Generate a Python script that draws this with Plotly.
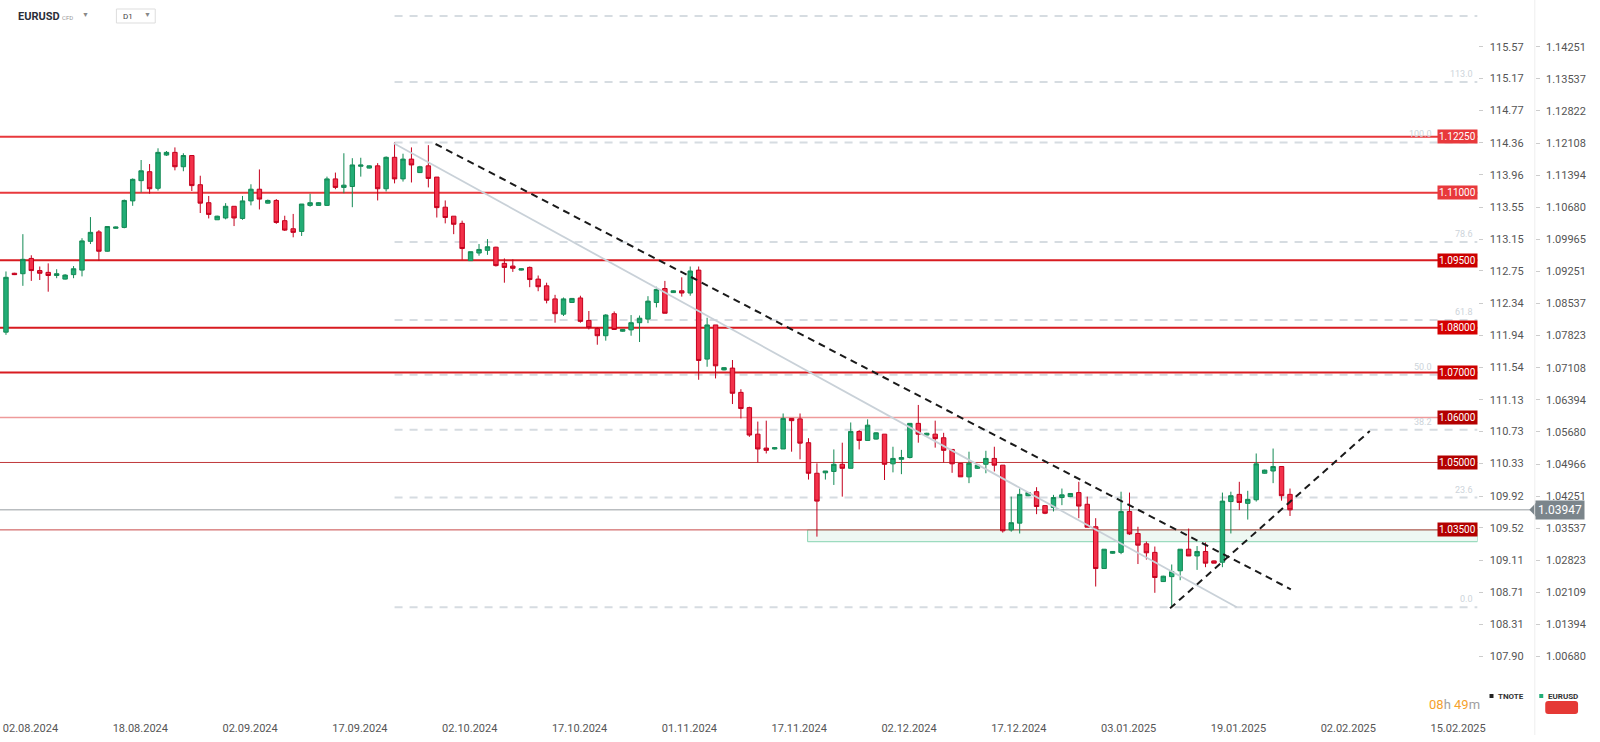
import plotly.graph_objects as go

# ---------------- data (EURUSD D1) ----------------
opens = [1.0790,1.0921,1.0920,1.0954,1.0927,1.0923,1.0916,1.0908,1.0918,1.0928,
         1.0992,1.1013,1.0970,1.1021,1.1023,1.1082,1.1127,1.1147,1.1110,1.1184,
         1.1190,1.1158,1.1183,1.1118,1.1078,1.1040,1.1044,1.1070,1.1043,1.1082,
         1.1108,1.1077,1.1083,1.1038,1.1020,1.1014,1.1072,1.1072,1.1072,1.1131,
         1.1112,1.1114,1.1159,1.1155,1.1160,1.1109,1.1179,1.1131,1.1175,1.1145,
         1.1160,1.1135,1.1068,1.1048,1.1032,1.0949,1.0966,1.0972,1.0979,1.0943,
         1.0937,1.0928,1.0934,1.0908,1.0893,1.0864,1.0830,1.0856,1.0866,1.0816,
         1.0798,1.0782,1.0831,1.0792,1.0795,1.0811,1.0819,1.0856,1.0887,1.0878,
         1.0882,1.0877,1.0928,1.0730,1.0806,1.0706,1.0710,1.0656,1.0622,1.0563,
         1.0532,1.0530,1.0530,1.0598,1.0597,1.0544,1.0476,1.0477,1.0480,1.0496,
         1.0487,1.0569,1.0549,1.0552,1.0563,1.0497,1.0507,1.0511,1.0587,1.0561,
         1.0563,1.0555,1.0529,1.0498,1.0468,1.0487,1.0496,1.0509,1.0494,1.0350,
         1.0365,1.0426,1.0435,1.0404,1.0400,1.0422,1.0424,1.0433,1.0407,1.0357,
         1.0264,1.0298,1.0300,1.0391,1.0342,1.0319,1.0300,1.0235,1.0246,1.0259,
         1.0307,1.0292,1.0302,1.0281,1.0278,1.0413,1.0429,1.0409,1.0417,1.0476,
         1.0481,1.0491,1.0429]
highs = [1.0925,1.0922,1.1008,1.0961,1.0936,1.0943,1.0930,1.0919,1.0937,1.0999,
         1.1046,1.1017,1.1026,1.1025,1.1085,1.1132,1.1173,1.1164,1.1199,1.1193,
         1.1201,1.1188,1.1184,1.1138,1.1093,1.1049,1.1077,1.1070,1.1093,1.1119,
         1.1152,1.1085,1.1086,1.1049,1.1053,1.1075,1.1098,1.1079,1.1136,1.1145,
         1.1188,1.1177,1.1178,1.1161,1.1166,1.1181,1.1212,1.1187,1.1201,1.1160,
         1.1206,1.1135,1.1083,1.1048,1.1038,1.0969,1.0986,1.0997,1.0980,1.0954,
         1.0952,1.0932,1.0936,1.0916,1.0900,1.0873,1.0867,1.0866,1.0871,1.0837,
         1.0801,1.0830,1.0836,1.0797,1.0828,1.0827,1.0870,1.0891,1.0904,1.0883,
         1.0912,1.0936,1.0936,1.0822,1.0806,1.0712,1.0728,1.0663,1.0624,1.0591,
         1.0593,1.0534,1.0609,1.0598,1.0609,1.0554,1.0498,1.0481,1.0529,1.0544,
         1.0589,1.0572,1.0596,1.0567,1.0563,1.0535,1.0528,1.0587,1.0628,1.0566,
         1.0593,1.0566,1.0529,1.0498,1.0524,1.0495,1.0526,1.0535,1.0494,1.0424,
         1.0442,1.0434,1.0445,1.0405,1.0428,1.0442,1.0432,1.0457,1.0424,1.0376,
         1.0307,1.0303,1.0435,1.0433,1.0357,1.0324,1.0313,1.0248,1.0273,1.0307,
         1.0353,1.0314,1.0322,1.0282,1.0433,1.0435,1.0457,1.0437,1.0520,1.0484,
         1.0531,1.0491,1.0442]
lows = [1.0784,1.0917,1.0893,1.0904,1.0906,1.0880,1.0910,1.0907,1.0910,1.0914,
        1.0986,1.0949,1.0969,1.1020,1.1021,1.1071,1.1101,1.1098,1.1105,1.1182,
        1.1150,1.1148,1.1104,1.1055,1.1043,1.1040,1.1041,1.1026,1.1040,1.1072,
        1.1063,1.1076,1.1031,1.1015,1.1001,1.1004,1.1069,1.1072,1.1071,1.1108,
        1.1099,1.1068,1.1136,1.1154,1.1083,1.1103,1.1121,1.1125,1.1123,1.1144,
        1.1112,1.1045,1.1032,1.1008,1.0951,1.0949,1.0960,1.0962,1.0936,1.0900,
        1.0924,1.0927,1.0890,1.0881,1.0854,1.0811,1.0826,1.0855,1.0811,1.0796,
        1.0762,1.0771,1.0795,1.0791,1.0782,1.0768,1.0810,1.0845,1.0832,1.0877,
        1.0869,1.0871,1.0684,1.0713,1.0687,1.0705,1.0630,1.0598,1.0557,1.0500,
        1.0520,1.0529,1.0530,1.0524,1.0507,1.0462,1.0335,1.0462,1.0450,1.0424,
        1.0487,1.0529,1.0549,1.0551,1.0461,1.0478,1.0474,1.0509,1.0544,1.0560,
        1.0533,1.0500,1.0477,1.0468,1.0454,1.0486,1.0476,1.0480,1.0344,1.0346,
        1.0342,1.0425,1.0385,1.0385,1.0391,1.0405,1.0423,1.0376,1.0356,1.0224,
        1.0264,1.0297,1.0296,1.0339,1.0274,1.0284,1.0210,1.0234,1.0178,1.0238,
        1.0292,1.0261,1.0267,1.0276,1.0267,1.0342,1.0394,1.0373,1.0413,1.0475,
        1.0454,1.0415,1.0381]
closes = [1.0912,1.0918,1.0952,1.0927,1.0921,1.0916,1.0920,1.0917,1.0931,1.0993,
          1.1012,1.0970,1.1025,1.1024,1.1083,1.1130,1.1149,1.1109,1.1190,1.1190,
          1.1158,1.1183,1.1116,1.1077,1.1052,1.1048,1.1070,1.1044,1.1082,1.1108,
          1.1086,1.1083,1.1034,1.1017,1.1012,1.1075,1.1078,1.1078,1.1131,1.1112,
          1.1117,1.1162,1.1162,1.1160,1.1109,1.1179,1.1131,1.1175,1.1162,1.1158,
          1.1132,1.1067,1.1045,1.1030,1.0976,1.0969,1.0974,1.0980,1.0938,1.0934,
          1.0932,1.0931,1.0907,1.0891,1.0861,1.0831,1.0864,1.0865,1.0814,1.0800,
          1.0782,1.0828,1.0796,1.0796,1.0811,1.0821,1.0859,1.0885,1.0832,1.0882,
          1.0877,1.0926,1.0727,1.0806,1.0715,1.0711,1.0654,1.0620,1.0561,1.0530,
          1.0527,1.0533,1.0598,1.0593,1.0543,1.0476,1.0414,1.0481,1.0496,1.0487,
          1.0569,1.0549,1.0583,1.0566,1.0496,1.0509,1.0511,1.0587,1.0563,1.0565,
          1.0553,1.0527,1.0497,1.0468,1.0498,1.0494,1.0509,1.0494,1.0348,1.0366,
          1.0429,1.0433,1.0402,1.0387,1.0422,1.0428,1.0431,1.0403,1.0356,1.0264,
          1.0307,1.0302,1.0391,1.0341,1.0316,1.0299,1.0244,1.0247,1.0257,1.0307,
          1.0292,1.0302,1.0276,1.0276,1.0414,1.0426,1.0411,1.0418,1.0497,1.0483,
          1.0491,1.0426,1.03947]

date_labels = ["02.08.2024", "18.08.2024", "02.09.2024", "17.09.2024", "02.10.2024",
               "17.10.2024", "01.11.2024", "17.11.2024", "02.12.2024", "17.12.2024",
               "03.01.2025", "19.01.2025", "02.02.2025", "15.02.2025"]
label_step = 13      # bars between date labels
label_offset = 2.9   # labels start at their bar and run to the right

eurusd_ticks = [1.14251, 1.13537, 1.12822, 1.12108, 1.11394, 1.10680, 1.09965, 1.09251,
                1.08537, 1.07823, 1.07108, 1.06394, 1.05680, 1.04966, 1.04251, 1.03537,
                1.02823, 1.02109, 1.01394, 1.00680]
tnote_ticks = [115.57, 115.17, 114.77, 114.36, 113.96, 113.55, 113.15, 112.75, 112.34, 111.94,
               111.54, 111.13, 110.73, 110.33, 109.92, 109.52, 109.11, 108.71, 108.31, 107.90]

levels = [1.12250, 1.11000, 1.09500, 1.08000, 1.07000, 1.06000, 1.05000, 1.03500]
level_line_colors = ["#e8393c", "#e8393c", "#d81b20", "#d81b20", "#d81b20", "#ee9a9a", "#c0393b", "#c84848"]
level_line_widths = [2, 2, 2, 2, 2, 1.5, 1, 1]
level_box_colors = ["#e8393c", "#e8393c", "#cc0000", "#d50000", "#cc0000", "#b30000", "#b30000", "#b30000"]

fib_ratios = [0.0, 23.6, 38.2, 50.0, 61.8, 78.6, 100.0, 113.0, 127.2]
fib_label_visible = [0.0, 23.6, 38.2, 50.0, 61.8, 78.6, 100.0, 113.0]
fib_start_bar = 46
current_price = 1.03947

# trend lines: (bar, price) endpoints
trend_down = [(50.85, 1.12086), (152.1, 1.02178)]
trend_up = [(137.8, 1.01755), (161.45, 1.05700)]
trend_gray = [(45.9, 1.12102), (145.7, 1.01778)]
zone = dict(start_bar=94.9, top=1.0350, bottom=1.03237)

# ---------------- layout geometry ----------------
W, H = 1600, 742
MT, MB = 0, 22
PH = H - MT - MB
PLOT_RIGHT = 1485
BAR_PX = 8.49
FIRST_BAR_PX = 6
Y_TOP, PX_PER_UNIT = 1.15290, 1 / 0.0002225
y_bottom = Y_TOP - PH / PX_PER_UNIT
x_range = [-FIRST_BAR_PX / BAR_PX, (PLOT_RIGHT - FIRST_BAR_PX) / BAR_PX]


def xp(px):
    return px / W


def yp(py):
    return 1 - (py - MT) / PH


# TNOTE axis mapped linearly onto the EURUSD scale
t_hi, t_lo = tnote_ticks[0], tnote_ticks[-1]
e_hi, e_lo = eurusd_ticks[0], eurusd_ticks[-1]
k = (t_hi - t_lo) / (e_hi - e_lo)
tnote_range = [t_lo + (y_bottom - e_lo) * k, t_lo + (Y_TOP - e_lo) * k]

n = len(closes)
bars = list(range(n))

fig = go.Figure()
fig.add_trace(go.Candlestick(
    x=bars, open=opens, high=highs, low=lows, close=closes,
    increasing=dict(line=dict(color="#138a55", width=1), fillcolor="#22ad76"),
    decreasing=dict(line=dict(color="#c4001d", width=1), fillcolor="#f3314a"),
    whiskerwidth=0, hoverinfo="skip", showlegend=False, name="EURUSD"))
fig.add_trace(go.Scatter(x=[None], y=[None], yaxis="y2", showlegend=False, hoverinfo="skip"))

shapes = []
lo, hi = min(lows), max(highs)
for r in fib_ratios:
    v = lo + r / 100 * (hi - lo)
    shapes.append(dict(type="line", xref="x", yref="y", x0=fib_start_bar, x1=x_range[1], y0=v, y1=v,
                       line=dict(color="#d6dce1", width=2, dash="8px,7px"), layer="below"))
shapes.append(dict(type="rect", xref="x", yref="y", x0=zone["start_bar"], x1=x_range[1],
                   y0=zone["bottom"], y1=zone["top"], fillcolor="#eef8f3",
                   line=dict(color="#86d3b1", width=1), layer="below"))
for v, c, w in zip(levels, level_line_colors, level_line_widths):
    shapes.append(dict(type="line", xref="x", yref="y", x0=x_range[0], x1=x_range[1], y0=v, y1=v,
                       line=dict(color=c, width=w), layer="below"))
shapes.append(dict(type="line", xref="paper", yref="y", x0=0, x1=xp(1540), y0=current_price,
                   y1=current_price, line=dict(color="#b9bdc0", width=1.5), layer="below"))
for (a, b), col, dash, wd in [(trend_gray, "#c9d1d8", "solid", 1.8), (trend_down, "#1a1a1a", "7px,5px", 2),
                              (trend_up, "#1a1a1a", "7px,5px", 2)]:
    shapes.append(dict(type="line", xref="x", yref="y", x0=a[0], y0=a[1], x1=b[0], y1=b[1],
                       line=dict(color=col, width=wd, dash=dash)))
half = 7.3 / PX_PER_UNIT
shapes.append(dict(type="path", xref="paper", yref="y",
                   path=f"M {xp(1537)},{current_price} L {xp(1544)},{current_price + half} "
                        f"L {xp(1544)},{current_price - half} Z",
                   fillcolor="#7b858b", line=dict(width=0)))
shapes.append(dict(type="line", xref="paper", yref="paper", x0=xp(1542.5), x1=xp(1542.5), y0=yp(735), y1=1,
                   line=dict(color="#eeeeee", width=1)))
shapes.append(dict(type="rect", xref="paper", yref="paper", x0=xp(117), x1=xp(156), y0=yp(23), y1=yp(9),
                   line=dict(color="#dddddd", width=1), fillcolor="white"))
shapes.append(dict(type="rect", xref="paper", yref="paper", x0=xp(1497), x1=xp(1501), y0=yp(698), y1=yp(694),
                   fillcolor="#222222", line=dict(width=0)))
shapes.append(dict(type="rect", xref="paper", yref="paper", x0=xp(1547), x1=xp(1551), y0=yp(698), y1=yp(694),
                   fillcolor="#22ad76", line=dict(width=0)))
shapes.append(dict(type="path", xref="paper", yref="paper",
                   path=f"M {xp(1556)},{yp(701)} L {xp(1583)},{yp(701)} Q {xp(1586)},{yp(701)} {xp(1586)},{yp(704)} "
                        f"L {xp(1586)},{yp(711)} Q {xp(1586)},{yp(714)} {xp(1583)},{yp(714)} "
                        f"L {xp(1556)},{yp(714)} Q {xp(1553)},{yp(714)} {xp(1553)},{yp(711)} "
                        f"L {xp(1553)},{yp(704)} Q {xp(1553)},{yp(701)} {xp(1556)},{yp(701)} Z",
                   fillcolor="#e53935", line=dict(width=0)))

ann = []
FONT = "Roboto, Arial, sans-serif"
for v, bc in zip(levels, level_box_colors):
    ann.append(dict(xref="paper", yref="y", x=xp(PLOT_RIGHT), y=v, xanchor="right", yanchor="middle",
                    text=f"{v:.5f}", showarrow=False, bgcolor=bc, borderpad=1,
                    font=dict(family=FONT, size=10, color="white")))
for r in fib_label_visible:
    v = lo + r / 100 * (hi - lo)
    # labels that would sit on a red level box are set just left of it
    clash = any(-7 < (lv - v) * PX_PER_UNIT < 20 for lv in levels)
    ann.append(dict(xref="paper", yref="y", x=xp(1441 if clash else 1482), y=v, xanchor="right",
                    yanchor="bottom", yshift=1, text=f"{r:.1f}", showarrow=False,
                    font=dict(family=FONT, size=9, color="#cdd4da")))
ann.append(dict(xref="paper", yref="y", x=xp(1543), y=current_price, xanchor="left", yanchor="middle",
                text=f"{current_price:.5f}", showarrow=False, bgcolor="#7b858b", borderpad=2,
                font=dict(family=FONT, size=12, color="white")))
ann.append(dict(xref="paper", yref="paper", x=xp(16), y=yp(16), xanchor="left", yanchor="middle",
                text="<b>EURUSD</b>", showarrow=False, font=dict(family=FONT, size=11, color="#2a2e39")))
ann.append(dict(xref="paper", yref="paper", x=xp(60), y=yp(17), xanchor="left", yanchor="middle",
                text="CFD", showarrow=False, font=dict(family=FONT, size=6, color="#999999")))
ann.append(dict(xref="paper", yref="paper", x=xp(80), y=yp(15), xanchor="left", yanchor="middle",
                text="▼", showarrow=False, font=dict(family=FONT, size=7, color="#888888")))
ann.append(dict(xref="paper", yref="paper", x=xp(122), y=yp(16), xanchor="left", yanchor="middle",
                text="D1", showarrow=False, font=dict(family=FONT, size=8, color="#444444")))
ann.append(dict(xref="paper", yref="paper", x=xp(143), y=yp(15), xanchor="left", yanchor="middle",
                text="▼", showarrow=False, font=dict(family=FONT, size=7, color="#888888")))
ann.append(dict(xref="paper", yref="paper", x=xp(1504), y=yp(696), xanchor="left", yanchor="middle",
                text="<b>TNOTE</b>", showarrow=False, font=dict(family=FONT, size=8, color="#333333")))
ann.append(dict(xref="paper", yref="paper", x=xp(1554), y=yp(696), xanchor="left", yanchor="middle",
                text="<b>EURUSD</b>", showarrow=False, font=dict(family=FONT, size=8, color="#333333")))
ann.append(dict(xref="paper", yref="paper", x=xp(1434), y=yp(704), xanchor="left", yanchor="middle",
                text="<span style='color:#f5a22d'>08</span><span style='color:#a0a0a0'>h</span> "
                     "<span style='color:#f5a22d'>49</span><span style='color:#a0a0a0'>m</span>",
                showarrow=False, font=dict(family=FONT, size=13, color="#f5a22d")))

fig.update_layout(
    width=W, height=H, margin=dict(l=0, r=0, t=MT, b=MB),
    paper_bgcolor="white", plot_bgcolor="white", boxgap=0.25,
    font=dict(family=FONT, size=11, color="#444444"),
    showlegend=False, shapes=shapes, annotations=ann,
    xaxis=dict(domain=[0, PLOT_RIGHT / W], range=x_range, showgrid=False, zeroline=False,
               showline=False, rangeslider=dict(visible=False),
               tickmode="array",
               tickvals=[i * label_step + label_offset for i in range(len(date_labels))],
               ticktext=date_labels, ticks="",
               tickfont=dict(family=FONT, size=11, color="#555555")),
    yaxis=dict(range=[y_bottom, Y_TOP], side="right", anchor="free", position=1542.5 / W,
               showgrid=False, zeroline=False, showline=False,
               tickmode="array", tickvals=eurusd_ticks, ticktext=[f"{v:.5f}" for v in eurusd_ticks],
               ticks="outside", ticklen=4, tickcolor="#cccccc", ticklabelstandoff=4,
               tickfont=dict(family=FONT, size=11, color="#555555")),
    yaxis2=dict(range=tnote_range, overlaying="y", side="right", anchor="x",
                showgrid=False, zeroline=False, showline=False,
                tickmode="array", tickvals=tnote_ticks, ticktext=[f"{v:.2f}" for v in tnote_ticks],
                ticks="outside", ticklen=4, tickcolor="#cccccc", ticklabelstandoff=5,
                tickfont=dict(family=FONT, size=11, color="#555555")),
)

fig.write_html("out.html", config={"displayModeBar": False},
               post_script="document.body.style.margin='0';")
